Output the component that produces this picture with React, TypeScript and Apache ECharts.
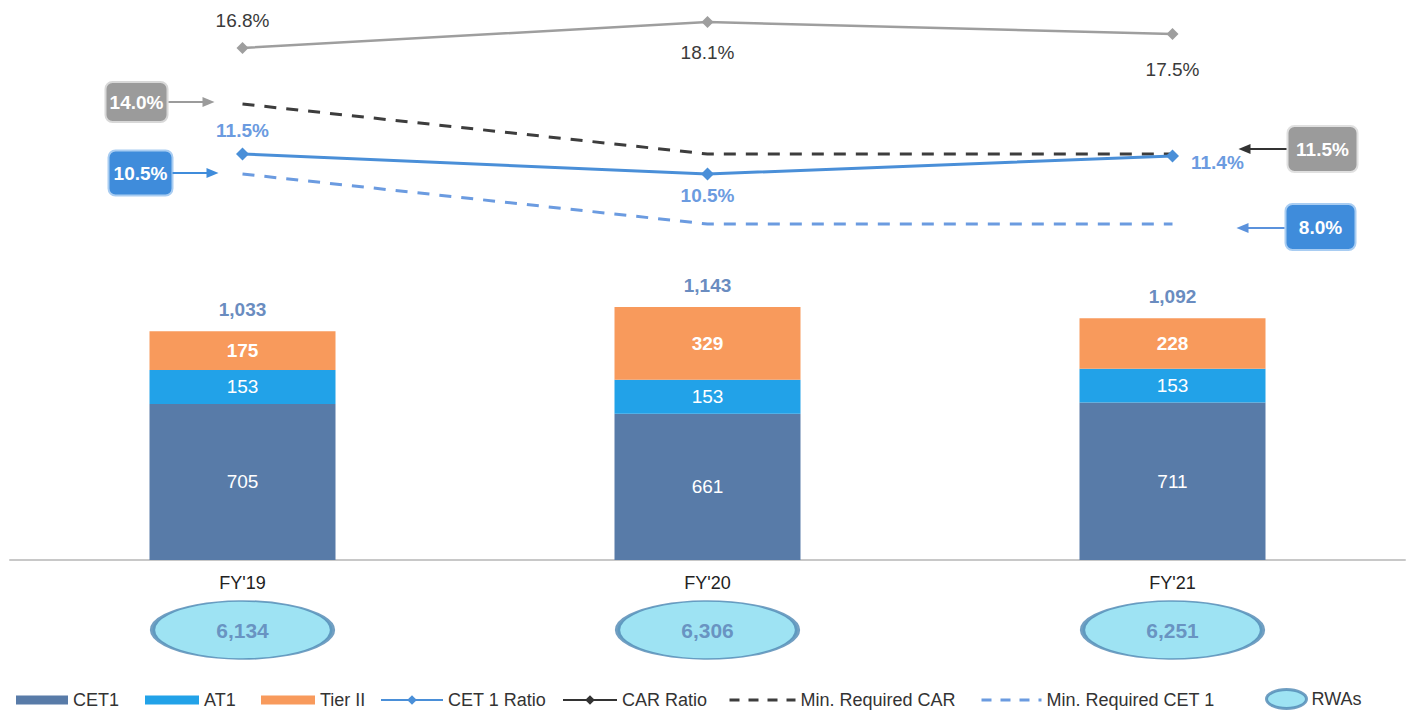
import React, { useEffect, useRef } from 'react';
import * as echarts from 'echarts';

const categories = ["FY'19", "FY'20", "FY'21"];
const cet1 = [705, 661, 711];
const at1 = [153, 153, 153];
const tier2 = [175, 329, 228];
const cet1Ratio = [11.5, 10.5, 11.4];
const carRatio = [16.8, 18.1, 17.5];
const minCar = [14.0, 11.5, 11.5];
const minCet1 = [10.5, 8.0, 8.0];
const rwas = [6134, 6306, 6251];

const FONT = "'Liberation Sans', Arial, Helvetica, sans-serif";
const C_CET1 = '#587ba8';
const C_AT1 = '#22a2e8';
const C_T2 = '#f89a5c';
const C_CETR = '#4a8fd8';
const C_CAR = '#9e9e9e';
const C_MINCAR = '#3d3d3d';
const C_MINCET = '#6b9be0';
const C_RWA_FILL = '#86dcf0';
const C_RWA_BORDER = '#4f87b3';

const fmt = (v: number) => v.toLocaleString('en-US');

export default function App() {
  const ref = useRef<HTMLDivElement>(null);
  useEffect(() => {
    if (!ref.current) return;
    const chart = echarts.init(ref.current, undefined, { renderer: 'svg' });
    const totals = cet1.map((v, i) => v + at1[i] + tier2[i]);
    const grids = [
      { left: 10, right: 5, top: 4, height: 240 },
      { left: 10, right: 5, top: 250, height: 310 },
      { left: 10, right: 5, top: 600, height: 60 },
    ];
    const hiddenX = (gi: number) => ({
      type: 'category', gridIndex: gi, data: categories,
      axisLine: { show: false }, axisTick: { show: false }, axisLabel: { show: false }, splitLine: { show: false },
    });
    const barLabel = { show: true, position: 'inside', color: '#fff', fontSize: 19, fontFamily: FONT };
    const carLabelPos = [
      { position: 'top', distance: 12 },
      { position: 'bottom', distance: 15 },
      { position: 'bottom', distance: 20 },
    ];
    const cetLabelPos = [
      { position: 'top', distance: 8 },
      { position: 'bottom', distance: 5 },
      { position: 'right', distance: 12, offset: [0, 6] },
    ];
    const legendBase = {
      top: 686, selectedMode: false,
      textStyle: { color: '#333', fontSize: 18, fontFamily: FONT },
    };
    const noSymbol = { color: 'transparent', borderColor: 'transparent', borderWidth: 0, opacity: 0 };
    const option: any = {
      animation: false,
      backgroundColor: '#fff',
      textStyle: { fontFamily: FONT },
      grid: grids,
      xAxis: [
        hiddenX(0),
        {
          type: 'category', gridIndex: 1, data: categories,
          axisLine: { show: true, lineStyle: { color: '#c8c8c8', width: 2 } },
          axisTick: { show: false },
          axisLabel: { color: '#222', fontSize: 18, margin: 14, fontFamily: FONT },
        },
        hiddenX(2),
      ],
      yAxis: [
        { type: 'value', gridIndex: 0, min: 7, max: 19, show: false },
        { type: 'value', gridIndex: 1, min: 0, max: 1400, show: false },
        { type: 'value', gridIndex: 2, min: -1, max: 1, show: false },
      ],
      legend: [
        { ...legendBase, left: 11, data: [{ name: 'CET1', icon: 'rect' }], itemWidth: 52, itemHeight: 9 },
        { ...legendBase, left: 140, data: [{ name: 'AT1', icon: 'rect' }], itemWidth: 54, itemHeight: 9 },
        { ...legendBase, left: 256, data: [{ name: 'Tier II', icon: 'rect' }], itemWidth: 54, itemHeight: 9 },
        { ...legendBase, left: 375, data: ['CET 1 Ratio'], itemWidth: 62, itemHeight: 12 },
        {
          ...legendBase, left: 557, itemWidth: 54, itemHeight: 12,
          data: [{ name: 'CAR Ratio', itemStyle: { color: '#333' }, lineStyle: { color: '#333' } }],
        },
        {
          ...legendBase, left: 723, itemWidth: 66, itemHeight: 12,
          data: [{ name: 'Min. Required CAR', itemStyle: noSymbol, lineStyle: { type: [10, 9], width: 3 } }],
        },
        {
          ...legendBase, left: 975, itemWidth: 60, itemHeight: 12,
          data: [{ name: 'Min. Required CET 1', itemStyle: noSymbol, lineStyle: { type: [10, 9], width: 3 } }],
        },
        {
          ...legendBase, left: 1260, top: 683, itemWidth: 40, itemHeight: 19, symbolKeepAspect: false,
          data: [{
            name: 'RWAs',
            icon: 'path://M0,10 A20,10 0 1,1 40,10 A20,10 0 1,1 0,10 Z',
            itemStyle: { color: C_RWA_FILL, borderColor: C_RWA_BORDER, borderWidth: 3 },
          }],
        },
      ],
      series: [
        {
          name: 'CET1', type: 'bar', stack: 'cap', xAxisIndex: 1, yAxisIndex: 1, barWidth: '40%',
          data: cet1, itemStyle: { color: C_CET1 }, label: barLabel,
        },
        {
          name: 'AT1', type: 'bar', stack: 'cap', xAxisIndex: 1, yAxisIndex: 1, barWidth: '40%',
          data: at1, itemStyle: { color: C_AT1 }, label: barLabel,
        },
        {
          name: 'Tier II', type: 'bar', stack: 'cap', xAxisIndex: 1, yAxisIndex: 1, barWidth: '40%',
          data: tier2, itemStyle: { color: C_T2 }, label: { ...barLabel, fontWeight: 'bold' },
        },
        {
          name: 'Total', type: 'bar', stack: 'cap', xAxisIndex: 1, yAxisIndex: 1, barWidth: '40%',
          data: totals.map(() => 0), itemStyle: { color: 'transparent' }, silent: true,
          label: {
            show: true, position: 'top', distance: 12, color: '#6a8cc0', fontSize: 19, fontWeight: 'bold',
            fontFamily: FONT, formatter: (p: any) => fmt(totals[p.dataIndex]),
          },
        },
        {
          name: 'Min. Required CAR', type: 'line', xAxisIndex: 0, yAxisIndex: 0, data: minCar,
          symbol: 'none', lineStyle: { color: C_MINCAR, width: 3, type: [12, 10] }, itemStyle: { color: C_MINCAR }, z: 2,
        },
        {
          name: 'Min. Required CET 1', type: 'line', xAxisIndex: 0, yAxisIndex: 0, data: minCet1,
          symbol: 'none', lineStyle: { color: C_MINCET, width: 3, type: [12, 10] }, itemStyle: { color: C_MINCET }, z: 2,
        },
        {
          name: 'CAR Ratio', type: 'line', xAxisIndex: 0, yAxisIndex: 0,
          symbol: 'diamond', symbolSize: 12, lineStyle: { color: C_CAR, width: 2.5 }, itemStyle: { color: C_CAR }, z: 3,
          data: carRatio.map((v, i) => ({
            value: v,
            label: {
              show: true, ...carLabelPos[i], color: '#3a3a3a', fontSize: 19, fontFamily: FONT,
              formatter: (p: any) => p.value.toFixed(1) + '%',
            },
          })),
        },
        {
          name: 'CET 1 Ratio', type: 'line', xAxisIndex: 0, yAxisIndex: 0,
          symbol: 'diamond', symbolSize: 13, lineStyle: { color: C_CETR, width: 3 }, itemStyle: { color: C_CETR }, z: 4,
          data: cet1Ratio.map((v, i) => ({
            value: v,
            label: {
              show: true, ...cetLabelPos[i], color: C_MINCET, fontSize: 19, fontWeight: 'bold', fontFamily: FONT,
              formatter: (p: any) => p.value.toFixed(1) + '%',
            },
          })),
        },
        {
          name: 'RWAs', type: 'scatter', xAxisIndex: 2, yAxisIndex: 2,
          symbol: 'circle', symbolSize: [180, 58],
          itemStyle: { color: C_RWA_FILL, borderColor: C_RWA_BORDER, borderWidth: 3 },
          data: categories.map((c) => [c, 0]),
          label: {
            show: true, position: 'inside', color: '#5b7fb5', fontSize: 21, fontWeight: 'bold', fontFamily: FONT,
            formatter: (p: any) => fmt(rwas[p.dataIndex]),
          },
        },
      ],
    };
    chart.setOption(option);

    const px = (cat: string, v: number) => chart.convertToPixel({ xAxisIndex: 0, yAxisIndex: 0 }, [cat, v]) as number[];
    const box = (cx: number, cy: number, w: number, h: number, fill: string, text: string, stroke?: string) => ({
      type: 'group',
      children: [
        {
          type: 'rect', shape: { x: cx - w / 2, y: cy - h / 2, width: w, height: h, r: 7 },
          style: { fill, stroke: stroke || 'none', lineWidth: stroke ? 2 : 0 },
        },
        {
          type: 'text', x: cx, y: cy,
          style: { text, fill: '#fff', fontSize: 19, fontWeight: 'bold', fontFamily: FONT, align: 'center', verticalAlign: 'middle' },
        },
      ],
    });
    const arrow = (x1: number, x2: number, y: number, color: string) => {
      const dir = x2 > x1 ? 1 : -1;
      return {
        type: 'group',
        children: [
          { type: 'line', shape: { x1, y1: y, x2: x2 - dir * 8, y2: y }, style: { stroke: color, lineWidth: 2 } },
          {
            type: 'polygon',
            shape: { points: [[x2, y], [x2 - dir * 12, y - 5], [x2 - dir * 12, y + 5]] },
            style: { fill: color },
          },
        ],
      };
    };
    const last = categories.length - 1;
    const pCar0 = px(categories[0], minCar[0]);
    const pCet0 = px(categories[0], minCet1[0]);
    const pCarL = px(categories[last], minCar[last]);
    const pCetL = px(categories[last], minCet1[last]);
    const pct = (v: number) => v.toFixed(1) + '%';
    chart.setOption({
      graphic: [
        box(pCar0[0] - 106, pCar0[1] - 2, 62, 40, '#9b9b9b', pct(minCar[0]), '#d8d8d8'),
        arrow(pCar0[0] - 74, pCar0[0] - 28, pCar0[1] - 2, '#9b9b9b'),
        box(pCet0[0] - 102, pCet0[1] - 1, 64, 45, '#3f8cdb', pct(minCet1[0]), '#a9cdf2'),
        arrow(pCet0[0] - 70, pCet0[0] - 24, pCet0[1] - 1, '#3f8cdb'),
        box(pCarL[0] + 150, pCarL[1] - 5, 70, 46, '#9b9b9b', pct(minCar[last]), '#e0e0e0'),
        arrow(pCarL[0] + 114, pCarL[0] + 66, pCarL[1] - 5, '#333'),
        box(pCetL[0] + 148, pCetL[1] + 3, 70, 46, '#3f8cdb', pct(minCet1[last]), '#a9cdf2'),
        arrow(pCetL[0] + 112, pCetL[0] + 64, pCetL[1] + 4, '#5b92dc'),
      ],
    });
    return () => chart.dispose();
  }, []);
  return <div ref={ref} style={{ position: 'fixed', left: 0, top: 0, width: 1410, height: 711 }} />;
}
